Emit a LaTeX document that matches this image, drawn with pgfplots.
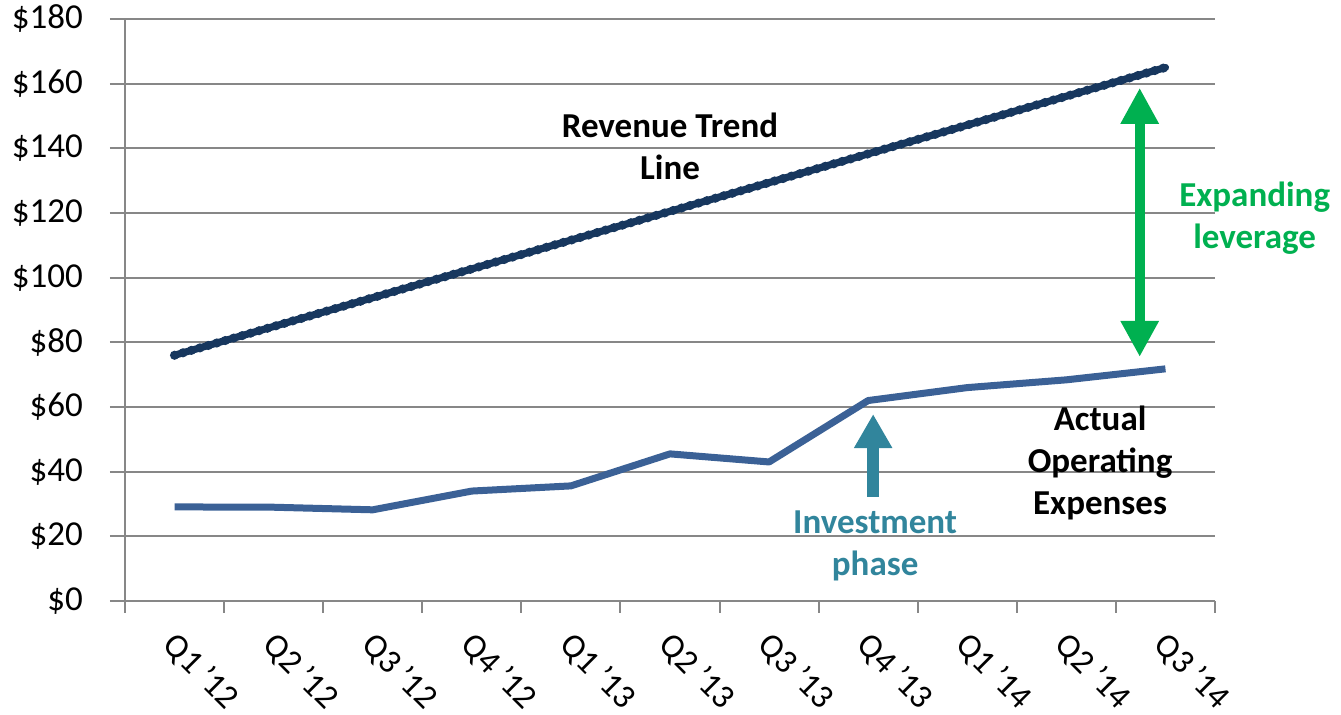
\documentclass[border=0pt]{standalone}
\usepackage{pgfplots}
\pgfplotsset{compat=1.18}
\usepackage{fontspec}
\setmainfont{Carlito}
\usetikzlibrary{arrows.meta}
\definecolor{rev}{HTML}{17375E}
\definecolor{opex}{HTML}{3B6196}
\definecolor{grn}{HTML}{00B050}
\definecolor{teal2}{HTML}{31859C}
\definecolor{gridg}{HTML}{878787}
\begin{document}
\begin{tikzpicture}
\begin{axis}[
  name=ax,
  scale only axis,
  width=545pt, height=291pt,
  xmin=-0.5, xmax=10.5, ymin=0, ymax=180,
  axis x line=bottom, axis y line=left,
  axis line style={gridg, line width=1pt, -},
  xtick={0,...,10},
  xticklabels={Q1 '12,Q2 '12,Q3 '12,Q4 '12,Q1 '13,Q2 '13,Q3 '13,Q4 '13,Q1 '14,Q2 '14,Q3 '14},
  major x tick style={draw=none},
  minor xtick={-0.5,0.5,...,10.5},
  minor x tick style={gridg, line width=1pt},
  minor tick length=6pt,
  ytick={0,20,...,180},
  yticklabels={\$0,\$20,\$40,\$60,\$80,\$100,\$120,\$140,\$160,\$180},
  major tick length=7.5pt,
  tick align=outside,
  ytick style={gridg, line width=1pt},
  ymajorgrids,
  major grid style={gridg, line width=1pt},
  tick label style={font=\fontsize{17.5}{21}\selectfont, black},
  xticklabel style={font=\fontsize{17}{21}\selectfont, rotate=-45, anchor=north west, inner sep=0pt, xshift=6.3pt, yshift=-3.2pt},
  yticklabel style={xshift=-10pt},
  clip=false,
]
\addplot[opex, line width=3.5pt, line join=round] coordinates {
 (0,29.1) (1,29.0) (2,28.2) (3,34.0) (4,35.6) (5,45.5) (6,43.0) (7,62.0) (8,66.0) (9,68.4) (10,71.8)};
\addplot[rev, line width=3.6pt, line cap=round] coordinates {
 (0,76.0) (1,84.9) (2,93.8) (3,102.7) (4,111.6) (5,120.5) (6,129.4) (7,138.3) (8,147.2) (9,156.1) (10,165.0)};
\addplot[rev, line width=4.6pt, line cap=round, dash pattern=on 0pt off 4.4pt] coordinates {
 (0,76.0) (1,84.9) (2,93.8) (3,102.7) (4,111.6) (5,120.5) (6,129.4) (7,138.3) (8,147.2) (9,156.1) (10,165.0)};
\draw[grn, line width=5pt, {Triangle[width=18pt 0,length=18pt 0]}-{Triangle[width=18pt 0,length=18pt 0]}]
  (axis cs:9.74,75.5) -- (axis cs:9.74,158.7);
\draw[teal2, line width=6pt, -{Triangle[width=18pt 0,length=17pt 0]}]
  (axis cs:7.05,32.2) -- (axis cs:7.05,57.8);
\node[align=center, font=\bfseries\fontsize{17.5}{21}\selectfont] at (axis cs:5,140.7) {Revenue Trend\\Line};
\node[align=center, font=\bfseries\fontsize{17.5}{21}\selectfont] at (axis cs:9.34,42.7) {Actual\\Operating\\Expenses};
\node[align=center, teal2, font=\bfseries\fontsize{17.5}{21}\selectfont] at (axis cs:7.07,17) {Investment\\phase};
\node[align=center, grn, font=\bfseries\fontsize{17.5}{21}\selectfont] at (axis cs:10.9,118.5) {Expanding\\leverage};
\end{axis}
\pgfresetboundingbox
\path ([shift={(-62.5pt,-57pt)}]ax.south west) rectangle ([shift={(63pt,9.5pt)}]ax.north east);
\end{tikzpicture}
\end{document}
